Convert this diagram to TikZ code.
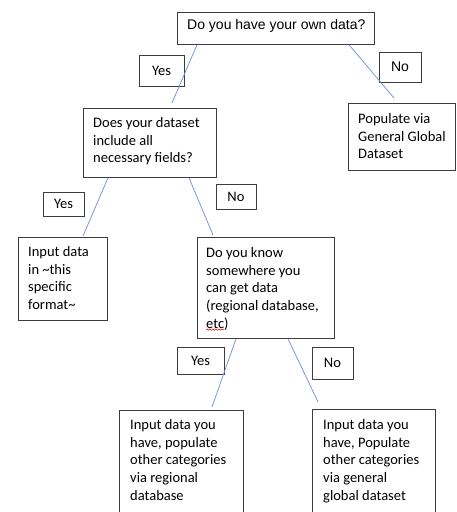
\documentclass[tikz,border=0pt]{standalone}
\usepackage{fontspec}
\setmainfont{Carlito}
\newfontfamily\arialfont{Liberation Sans}
\usetikzlibrary{calc,decorations.pathmorphing}
\definecolor{linkblue}{RGB}{115,148,212}
\definecolor{boxline}{RGB}{60,60,60}
\newcommand{\lnstrut}{\rule{0pt}{12pt}}
\tikzset{
  x=1pt, y=-1pt,
  frame/.style={draw=boxline, line width=0.8pt, rectangle, inner sep=0pt, anchor=north west},
  body/.style={anchor=north west, inner sep=0pt, align=left,
    font=\fontsize{14.5pt}{17.8pt}\selectfont},
  tag/.style={font=\fontsize{14.5pt}{17.8pt}\selectfont, inner sep=0pt},
  link/.style={draw=linkblue, line width=0.75pt},
}
\begin{document}
\begin{tikzpicture}
\clip (0,0) rectangle (457,512);
\fill[white] (0,0) rectangle (457,512);

% question and answer boxes
\node[frame, minimum width=197pt, minimum height=32pt] (q1) at (177,12) {};
\node[anchor=base west, inner sep=0pt, font=\arialfont\fontsize{14pt}{17pt}\selectfont] (q1t) at (187,29.5) {Do you have your own data?};

\node[frame, minimum width=107pt, minimum height=67pt] (pop) at (348,103) {};
\node[body] (popt) at (358,111) {\lnstrut Populate via\\General Global\\Dataset};

\node[frame, minimum width=133pt, minimum height=69pt] (does) at (83,108) {};
\node[body] (doest) at (93,115) {\lnstrut Does your dataset\\include all\\necessary fields?};

\node[frame, minimum width=89pt, minimum height=83pt] (inp) at (18,237) {};
\node[body] (inpt) at (28,244) {\lnstrut Input data\\in \textasciitilde this\\specific\\format\textasciitilde};

\node[frame, minimum width=137pt, minimum height=101pt] (know) at (197,237) {};
\node[body] (knowt) at (206,245) {\lnstrut Do you know\\somewhere you\\can get data\\(regional database,\\etc)};
\draw[red!80!black, line width=0.5pt, decorate,
  decoration={snake, amplitude=0.7pt, segment length=3pt}]
  ($(knowt.south west)+(0,-1)$) -- ++(18,0);

\node[frame, minimum width=124pt, minimum height=120pt] (bl) at (119,410) {};
\node[body] (blt) at (130,417) {\lnstrut Input data you\\have, populate\\other categories\\via regional\\database};

\node[frame, minimum width=123pt, minimum height=121pt] (br) at (312,409) {};
\node[body] (brt) at (323,417) {\lnstrut Input data you\\have, Populate\\other categories\\via general\\global dataset};

% Yes / No labels
\node[frame, anchor=center, minimum width=45pt, minimum height=31pt, tag] (yes1) at (161.5,70.5) {Yes};
\node[frame, anchor=center, minimum width=42pt, minimum height=30pt, tag, font=\arialfont\fontsize{14pt}{17pt}\selectfont] (no1) at (400,67) {No};
\node[frame, anchor=center, minimum width=41pt, minimum height=24pt, tag] (yes2) at (63.5,204) {Yes};
\node[frame, anchor=center, minimum width=40pt, minimum height=25pt, tag] (no2) at (236,196.5) {No};
\node[frame, anchor=center, minimum width=47pt, minimum height=27pt, tag] (yes3) at (200.5,360.5) {Yes};
\node[frame, anchor=center, minimum width=41pt, minimum height=32pt, tag] (no3) at (332.5,363) {No};

% connectors
\draw[link] ($(q1.south west)+(20,0)$) -- ($(does.north west)+(89,-5)$);
\draw[link] ($(q1.south west)+(172,0)$) -- ($(pop.north west)+(46,-5)$);
\draw[link] ($(does.south west)+(25,0)$) -- ($(inp.north west)+(65,-1)$);
\draw[link] ($(does.south west)+(106,0)$) -- ($(know.north west)+(16,-2)$);
\draw[link] ($(know.south west)+(39,0)$) -- ($(bl.north west)+(93,-3)$);
\draw[link] ($(know.south west)+(91,0)$) -- ($(br.north west)+(6,-7)$);
\end{tikzpicture}
\end{document}
